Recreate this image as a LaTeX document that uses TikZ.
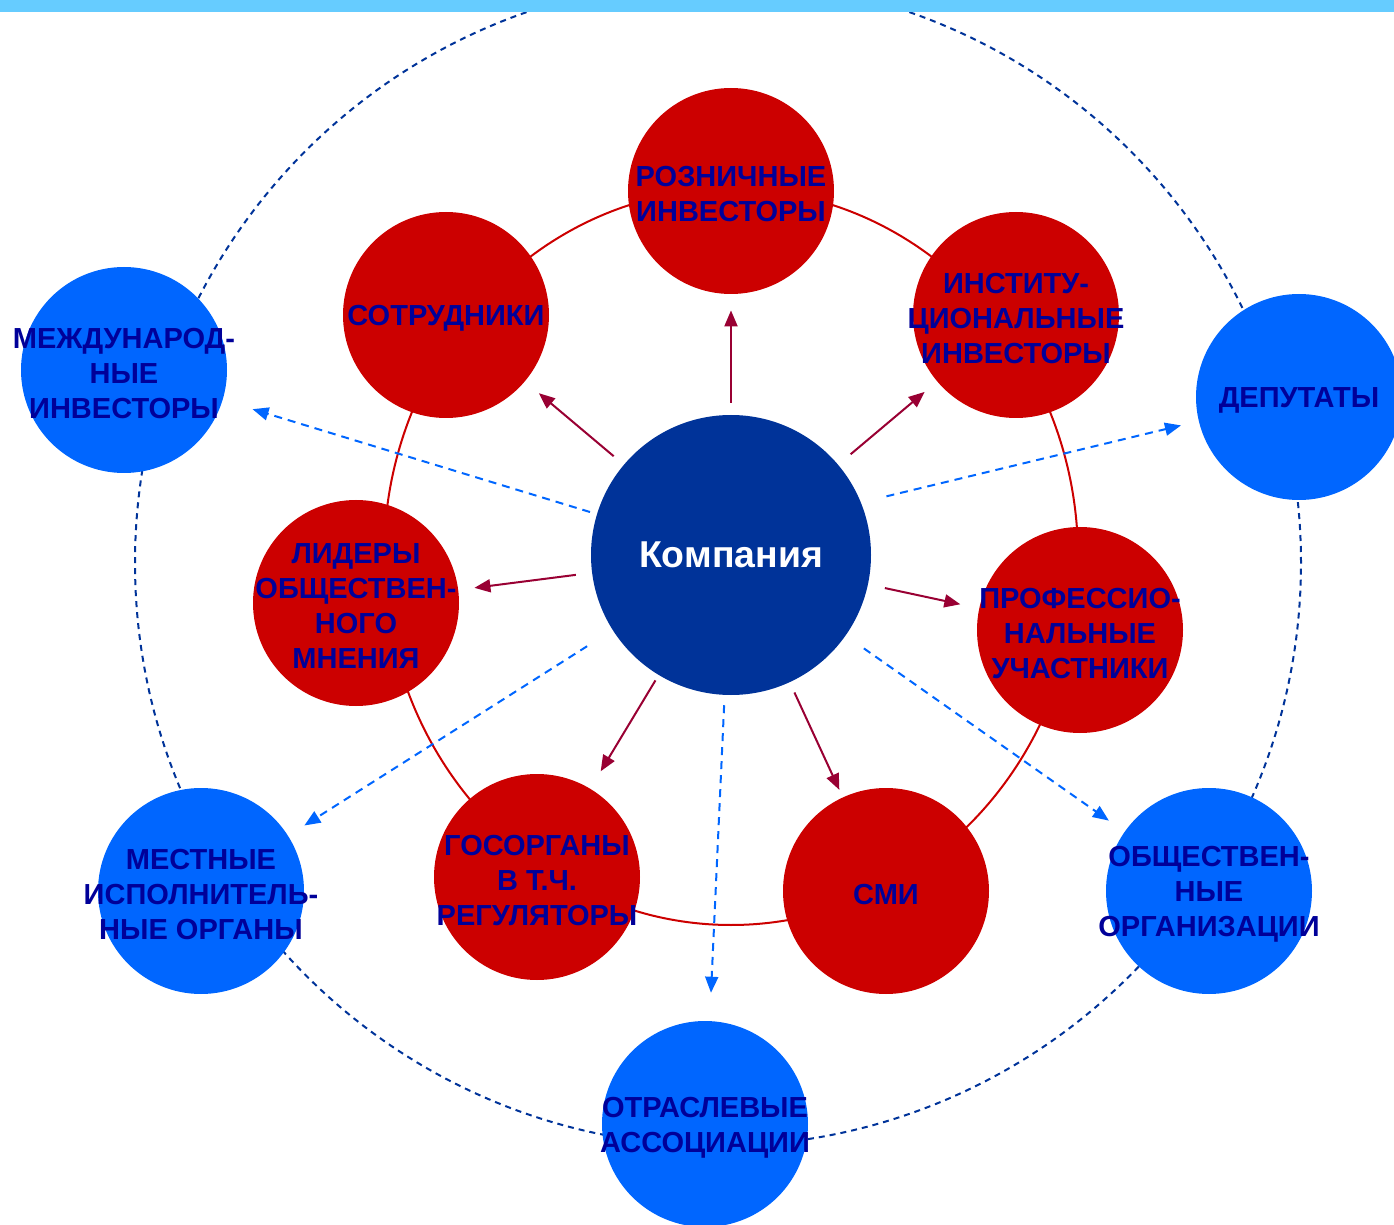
\documentclass[tikz,border=0pt]{standalone}
\usepackage{fontspec}
\setmainfont{Liberation Sans}
\usetikzlibrary{arrows.meta}
\definecolor{barblue}{HTML}{66CCFF}
\definecolor{cred}{HTML}{CC0000}
\definecolor{carrow}{HTML}{990033}
\definecolor{cblue}{HTML}{0066FF}
\definecolor{cdark}{HTML}{003399}
\definecolor{ctext}{HTML}{000099}
\begin{document}
\begin{tikzpicture}[x=0.5pt,y=-0.5pt,
  redc/.style={circle,fill=cred,minimum size=103pt,inner sep=0pt},
  bluec/.style={circle,fill=cblue,minimum size=103pt,inner sep=0pt},
  lbl/.style={font=\bfseries\fontsize{14.5pt}{17.5pt}\selectfont,text=ctext,align=center,inner sep=0pt,yshift=-1.75pt},
  redarr/.style={draw=carrow,line width=1pt,-{Triangle[length=8pt,width=6.5pt]}},
  bluearr/.style={draw=cblue,line width=1pt,dash pattern=on 4pt off 3pt,-{Triangle[length=8pt,width=6.5pt]}}]
\useasboundingbox (0,0) rectangle (1394,1225);
% outer dashed ring and red ring
\draw[cdark,line width=1pt,dash pattern=on 3pt off 2.5pt] (718,563) circle [radius=291.5pt];
\draw[cred,line width=1pt] (731,557) ellipse [x radius=173.5pt, y radius=184pt];
\fill[barblue] (0,0) rectangle (1394,12);
% blue circles
\node[bluec] (b1) at (124,370) {};
\node[bluec] (b2) at (1299,397) {};
\node[bluec] (b3) at (201,891) {};
\node[bluec] (b4) at (705,1124) {};
\node[bluec] (b5) at (1209,891) {};
% red circles
\node[redc] (r1) at (731,191) {};
\node[redc] (r2) at (446,315) {};
\node[redc] (r3) at (1016,315) {};
\node[redc] (r4) at (356,603) {};
\node[redc] (r5) at (1080,630) {};
\node[redc] (r6) at (537,877) {};
\node[redc] (r7) at (886,891) {};
% center
\node[circle,fill=cdark,minimum size=140pt,inner sep=0pt,text=white,font=\bfseries\fontsize{18.7pt}{21pt}\selectfont] (c) at (731,555) {Компания};
% red arrows
\draw[redarr,shorten <=6pt,shorten >=8pt] (c) -- (r1);
\draw[redarr,shorten <=6.5pt,shorten >=9pt] (c) -- (r2);
\draw[redarr,shorten <=8pt,shorten >=8pt] (c) -- (r3);
\draw[redarr,shorten <=8pt,shorten >=8pt] (c) -- (r4);
\draw[redarr,shorten <=8.5pt,shorten >=9.5pt] (c) -- (r5);
\draw[redarr,shorten <=3pt,shorten >=10pt] (c) -- (r6);
\draw[redarr,shorten <=5.5pt,shorten >=4pt] (c) -- (r7);
% blue dashed arrows
\draw[bluearr,shorten <=3.5pt,shorten >=15.5pt] (c) -- (b1);
\draw[bluearr,shorten <=13pt,shorten >=9pt] (c.22) -- (b2);
\draw[bluearr,shorten <=15pt,shorten >=9.5pt] (c) -- (b3);
\draw[bluearr,shorten <=5pt,shorten >=14pt] (c) -- (b4);
\draw[bluearr,shorten <=11pt,shorten >=9.5pt] (c) -- (b5);
% labels
\node[lbl] (t1) at (r1) {РОЗНИЧНЫЕ\\ИНВЕСТОРЫ};
\node[lbl] (t2) at (r2) {СОТРУДНИКИ};
\node[lbl] (t3) at (r3) {ИНСТИТУ-\\ЦИОНАЛЬНЫЕ\\ИНВЕСТОРЫ};
\node[lbl] (t4) at (r4) {ЛИДЕРЫ\\ОБЩЕСТВЕН-\\НОГО\\МНЕНИЯ};
\node[lbl] (t5) at (r5) {ПРОФЕССИО-\\НАЛЬНЫЕ\\УЧАСТНИКИ};
\node[lbl] (t6) at (r6) {ГОСОРГАНЫ\\В Т.Ч.\\РЕГУЛЯТОРЫ};
\node[lbl] (t7) at (r7) {СМИ};
\node[lbl] (u1) at (b1) {МЕЖДУНАРОД-\\НЫЕ\\ИНВЕСТОРЫ};
\node[lbl] (u2) at (b2) {ДЕПУТАТЫ};
\node[lbl] (u3) at (b3) {МЕСТНЫЕ\\ИСПОЛНИТЕЛЬ-\\НЫЕ ОРГАНЫ};
\node[lbl] (u4) at (b4) {ОТРАСЛЕВЫЕ\\АССОЦИАЦИИ};
\node[lbl] (u5) at (b5) {ОБЩЕСТВЕН-\\НЫЕ\\ОРГАНИЗАЦИИ};
\end{tikzpicture}
\end{document}
